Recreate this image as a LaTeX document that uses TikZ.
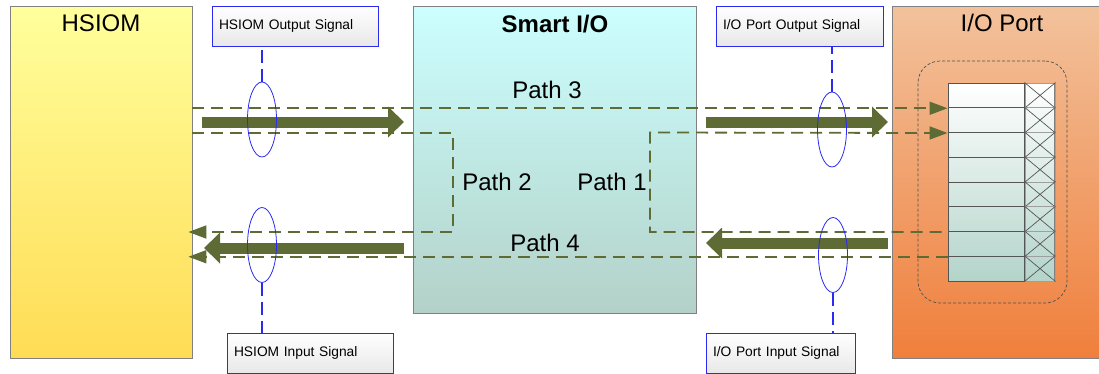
\documentclass[tikz,border=0pt]{standalone}
\usepackage{fontspec}
\setmainfont{Liberation Sans}
\usetikzlibrary{arrows.meta,shapes.geometric,positioning}

\definecolor{boxgray}{HTML}{808080}
\definecolor{framegray}{HTML}{505050}
\definecolor{hsiomtop}{HTML}{FFFF9C}
\definecolor{hsiombot}{HTML}{FFDC55}
\definecolor{smarttop}{HTML}{CCFFFF}
\definecolor{smartbot}{HTML}{B3D1C8}
\definecolor{porttop}{HTML}{F2C29C}
\definecolor{portbot}{HTML}{F07F3C}
\definecolor{cellteal}{HTML}{B3D4CA}
\definecolor{cellline}{HTML}{555555}
\definecolor{pathgreen}{HTML}{5E6B35}
\definecolor{sigblue}{HTML}{2A2AF0}

\begin{document}
\begin{tikzpicture}[x=1pt, y=-1pt, >=Triangle,
  block/.style={draw=boxgray, line width=0.8pt, inner sep=0pt},
  title/.style={font=\fontsize{24}{28}\selectfont},
  pathlabel/.style={font=\fontsize{24}{28}\selectfont},
  sigbox/.style={draw=sigblue, line width=0.8pt, top color=white, bottom color=black!9,
    minimum height=40pt, inner sep=7pt, align=left, font=\fontsize{13.8}{16}\selectfont},
  sigring/.style={ellipse, draw=sigblue, line width=0.8pt, minimum width=29pt, minimum height=75pt, inner sep=0pt},
  sigline/.style={draw=sigblue, line width=1.6pt, dash pattern=on 13pt off 6pt},
  route/.style={draw=pathgreen, line width=1.8pt, dash pattern=on 12pt off 7pt},
  routetip/.style={-{Triangle[length=18pt, width=13pt]}},
  bigarrow/.style={draw=pathgreen, line width=11pt, -{Triangle[length=16pt, width=30pt]}},
  cellrow/.style={draw=cellline, line width=1pt, minimum width=76pt, minimum height=24.75pt, inner sep=0pt},
  xcellrow/.style={draw=gray!75, line width=1pt, minimum width=30pt, minimum height=24.75pt, inner sep=0pt}]
\useasboundingbox (0,0) rectangle (1099,373);

% main blocks
\node [block, top color=hsiomtop, bottom color=hsiombot, minimum width=182pt, minimum height=352pt] (hsiom) at (101,182) {};
\node [block, top color=smarttop, bottom color=smartbot, minimum width=283pt, minimum height=307pt] (smart) at (554.5,159.5) {};
\node [block, top color=porttop, bottom color=portbot, minimum width=213pt, minimum height=352pt] (port) at (998.5,182) {};

\node [title] (hsiom-title) at (101,23) {HSIOM};
\node [title, font=\fontsize{24}{28}\selectfont\bfseries] (smart-title) at (555,24) {Smart I/O};
\node [title] (port-title) at (1002,23) {I/O Port};

% port pins
\node [draw=framegray, dash pattern=on 3pt off 2pt, line width=0.7pt, rounded corners=22pt,
  minimum width=149pt, minimum height=242pt] (frame) at (992.5,182) {};
\node [block, top color=white, bottom color=cellteal, minimum width=106pt, minimum height=198pt] (cells) at (1001,182) {};
\foreach \i in {1,...,8} {
  \node [cellrow] (cell-\i) at (986,{83+24.75*\i-12.375}) {};
  \node [xcellrow, right=0pt of cell-\i] (xcell-\i) {};
  \draw [cellline, line width=0.7pt] (xcell-\i.north west) -- (xcell-\i.south east)
    (xcell-\i.north east) -- (xcell-\i.south west);
}

% routes
\coordinate (p2-corner) at (453,232);
\coordinate (p1-corner) at (650,132.5);

\draw [route, routetip] (hsiom.east |- cell-1.south west) -- (cell-1.south west);
\draw [route, routetip] (hsiom.east |- cell-2.south west) -| (p2-corner) -- ([xshift=-4pt]hsiom.east |- p2-corner);
\draw [route, routetip] ([xshift=-6pt]cell-6.south west) -| (p1-corner) -- (cell-2.south west);
\draw [route, routetip] (cell-7.south west) -- ([xshift=-4pt]hsiom.east |- cell-7.south west);

\node [pathlabel] (path-3) at (547,90) {Path 3};
\node [pathlabel] (path-2) at (497,182) {Path 2};
\node [pathlabel] (path-1) at (612,182) {Path 1};
\node [pathlabel] (path-4) at (545,243) {Path 4};

% bus arrows
\coordinate (a1-start) at (202,122);
\coordinate (a1-end) at (404,122);
\coordinate (a2-start) at (706,122);
\coordinate (a2-end) at (888,122);
\coordinate (a3-start) at (888,243);
\coordinate (a3-end) at (706,243);
\coordinate (a4-start) at (404,248);
\coordinate (a4-end) at (204,248);
\draw [bigarrow] (a1-start) -- (a1-end);
\draw [bigarrow] (a2-start) -- (a2-end);
\draw [bigarrow] (a3-start) -- (a3-end);
\draw [bigarrow] (a4-start) -- (a4-end);

% signal markers
\node [sigring] (ring-ho) at (262,119.5) {};
\node [sigring] (ring-hi) at (262,245) {};
\node [sigring] (ring-po) at (832,129.5) {};
\node [sigring] (ring-pi) at (833,255) {};

\node [sigbox, text width=152pt] (sig-ho) at (295,26) {HSIOM Output Signal};
\node [sigbox, text width=152pt] (sig-hi) at (310,353) {HSIOM Input Signal};
\node [sigbox, text width=153pt] (sig-po) at (799.5,26) {I/O Port Output Signal};
\node [sigbox, text width=135pt] (sig-pi) at (780.5,353) {I/O Port Input Signal};

\draw [sigline] (ring-ho.north) -- (ring-ho.north |- sig-ho.south);
\draw [sigline] (ring-hi.south) -- (ring-hi.south |- sig-hi.north);
\draw [sigline] (ring-po.north) -- (ring-po.north |- sig-po.south);
\draw [sigline] (ring-pi.south) -- (ring-pi.south |- sig-pi.north);
\end{tikzpicture}
\end{document}
